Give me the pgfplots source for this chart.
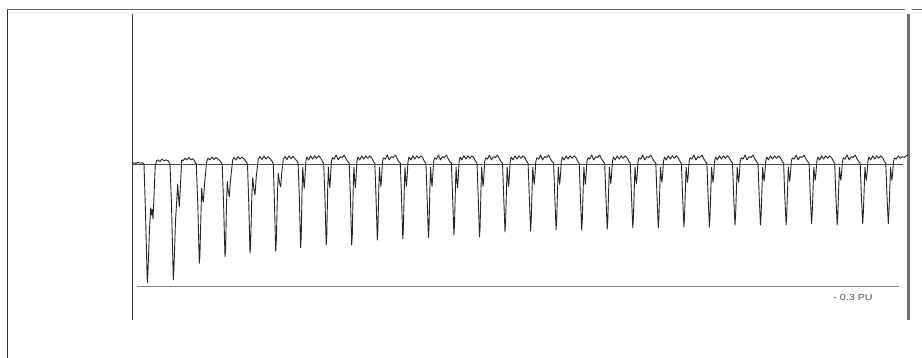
\documentclass[border=0pt]{standalone}
\usepackage{pgfplots}
\pgfplotsset{compat=1.18}
\usepackage{fontspec}
\setsansfont{Liberation Sans}
\begin{document}
\begin{tikzpicture}
\path[use as bounding box] (0,0) rectangle (922pt,358pt);
\begin{axis}[at={(0,0)}, anchor=south west, width=922pt, height=358pt, scale only axis,
  xmin=0, xmax=922, ymin=-0.4767, ymax=0.40295, hide axis, clip=false]
% frame lines
\addplot[black!80, line width=0.9pt] coordinates {(7,0.3808) (7,-0.4767)};
\addplot[black!60, line width=0.9pt] coordinates {(7,0.3808) (905,0.3808)};
\addplot[black!60, line width=0.9pt] coordinates {(912,0.3808) (922,0.3808)};
% left axis line
\addplot[black!75, line width=0.9pt] coordinates {(132.3,0.3686) (132.3,-0.3833)};
% right bar
\addplot[black!55, line width=2.7pt] coordinates {(908.7,0.3686) (908.7,-0.3833)};
% zero line
\addplot[black!70, line width=0.8pt] coordinates {(132,0) (903,0)};
% -0.3 PU line
\addplot[black!50, line width=0.8pt] coordinates {(137,-0.3) (899,-0.3)};
\node[text=black!65, font=\fontsize{8.8}{10}\selectfont\sffamily, xscale=1.22] at (axis cs:853,-0.329) {- 0.3 PU};
% waveform
\addplot[black!85, line width=0.9pt, line join=round] coordinates {
(132,0.0) (134,0.003) (136,0.001) (138,0.004) (140,0.002) (142,0.003) (144,0.0)
(145.5,-0.12) (147.3,-0.292) (147.9,-0.27) (149.5,-0.16) (150.7,-0.108) (151.5,-0.125) (152.2,-0.112) (153,-0.135) (154,-0.08) (155.2,-0.005) (156.5,0.008) (158,0.01) (160,0.006) (162,0.012) (164,0.008) (166,0.01) (168,0.008) (170,0.0)
(171.5,-0.1) (173.3,-0.285) (173.9,-0.26) (175.5,-0.14) (177.7,-0.05) (178.5,-0.08) (179.3,-0.105) (180.3,-0.06) (181.7,0.01) (183,0.008) (185,0.014) (187,0.01) (189,0.016) (191,0.01) (193,0.013) (195,0.005) (196.3,0.0)
(197.8,-0.1) (199.3,-0.244) (199.9,-0.225) (201,-0.12) (201.7,-0.06) (202.5,-0.085) (203.3,-0.093) (204.5,-0.05) (206.7,0.006) (208,0.014) (210,0.01) (212,0.017) (214,0.011) (216,0.016) (218,0.012) (220,0.008) (222.2,0.0)
(223.6,-0.1) (225,-0.228) (225.6,-0.21) (226.5,-0.1) (227.3,-0.043) (228.2,-0.065) (229.3,-0.08) (230.5,-0.04) (232.7,0.01) (234,0.016) (236,0.01) (238,0.018) (240,0.012) (242,0.017) (244,0.012) (246,0.006) (247.5,0.0)
(248.8,-0.1) (250,-0.219) (250.6,-0.2) (251.8,-0.08) (252.7,-0.034) (253.8,-0.06) (255,-0.076) (256.3,-0.03) (258.3,0.012) (260,0.018) (262,0.011) (264,0.02) (266,0.012) (268,0.018) (270,0.013) (272,0.007) (273.3,0.0)
(274.5,-0.1) (275.7,-0.214) (276.3,-0.19) (277.5,-0.07) (278.3,-0.023) (279.5,-0.045) (280.7,-0.056) (281.8,-0.02) (283.3,0.012) (285,0.018) (287,0.011) (289,0.02) (291,0.013) (293,0.019) (295,0.013) (297,0.007)
(298.1,0.002) (299.3,-0.08) (300.6,-0.206) (301.2,-0.181) (302.1,-0.06) (302.8,-0.008) (303.6,-0.042) (304.2,-0.06) (304.9,-0.036) (305.8,0.006) (306.8,0.017) (308.6,0.01) (310.6,0.02) (312.6,0.012) (314.6,0.02) (316.6,0.014) (318.6,0.02) (320.6,0.015) (322.4,0.006)
(323.7,0.002) (324.9,-0.08) (326.2,-0.199) (326.8,-0.174) (327.7,-0.06) (328.4,-0.008) (329.2,-0.041) (329.8,-0.058) (330.5,-0.035) (331.4,0.006) (332.4,0.015) (334.2,0.012) (336.2,0.022) (338.2,0.01) (340.2,0.018) (342.2,0.016) (344.2,0.022) (346.2,0.012) (348.0,0.005)
(349.2,0.002) (350.4,-0.08) (351.7,-0.199) (352.3,-0.174) (353.2,-0.06) (353.9,-0.008) (354.7,-0.041) (355.3,-0.058) (356.0,-0.035) (356.9,0.006) (357.9,0.017) (359.7,0.01) (361.7,0.02) (363.7,0.012) (365.7,0.02) (367.7,0.014) (369.7,0.02) (371.7,0.015) (373.5,0.006)
(374.8,0.002) (376.0,-0.08) (377.3,-0.187) (377.9,-0.162) (378.8,-0.06) (379.5,-0.008) (380.3,-0.039) (380.9,-0.055) (381.6,-0.033) (382.5,0.006) (383.5,0.015) (385.3,0.012) (387.3,0.022) (389.3,0.01) (391.3,0.018) (393.3,0.016) (395.3,0.022) (397.3,0.012) (399.1,0.005)
(400.3,0.002) (401.5,-0.08) (402.8,-0.184) (403.4,-0.159) (404.3,-0.06) (405.0,-0.008) (405.8,-0.039) (406.4,-0.055) (407.1,-0.033) (408.0,0.006) (409.0,0.017) (410.8,0.01) (412.8,0.02) (414.8,0.012) (416.8,0.02) (418.8,0.014) (420.8,0.02) (422.8,0.015) (424.6,0.006)
(425.9,0.002) (427.1,-0.08) (428.4,-0.181) (429.0,-0.156) (429.9,-0.06) (430.6,-0.008) (431.4,-0.039) (432.0,-0.055) (432.7,-0.033) (433.6,0.006) (434.6,0.015) (436.4,0.012) (438.4,0.022) (440.4,0.01) (442.4,0.018) (444.4,0.016) (446.4,0.022) (448.4,0.012) (450.2,0.005)
(451.4,0.002) (452.6,-0.08) (453.9,-0.174) (454.5,-0.149) (455.4,-0.06) (456.1,-0.008) (456.9,-0.041) (457.5,-0.059) (458.2,-0.035) (459.1,0.006) (460.1,0.017) (461.9,0.01) (463.9,0.02) (465.9,0.012) (467.9,0.02) (469.9,0.014) (471.9,0.02) (473.9,0.015) (475.7,0.006)
(477.0,0.002) (478.2,-0.08) (479.5,-0.179) (480.1,-0.154) (481.0,-0.06) (481.7,-0.008) (482.5,-0.039) (483.1,-0.055) (483.8,-0.033) (484.7,0.006) (485.7,0.015) (487.5,0.012) (489.5,0.022) (491.5,0.01) (493.5,0.018) (495.5,0.016) (497.5,0.022) (499.5,0.012) (501.3,0.005)
(502.5,0.002) (503.7,-0.08) (505.0,-0.167) (505.6,-0.142) (506.5,-0.06) (507.2,-0.008) (508.0,-0.039) (508.6,-0.055) (509.3,-0.033) (510.2,0.006) (511.2,0.017) (513.0,0.01) (515.0,0.02) (517.0,0.012) (519.0,0.02) (521.0,0.014) (523.0,0.02) (525.0,0.015) (526.8,0.006)
(528.1,0.002) (529.3,-0.08) (530.6,-0.165) (531.2,-0.14) (532.1,-0.06) (532.8,-0.008) (533.6,-0.035) (534.2,-0.05) (534.9,-0.03) (535.8,0.006) (536.8,0.015) (538.6,0.012) (540.6,0.022) (542.6,0.01) (544.6,0.018) (546.6,0.016) (548.6,0.022) (550.6,0.012) (552.4,0.005)
(553.6,0.002) (554.8,-0.08) (556.1,-0.162) (556.7,-0.137) (557.6,-0.06) (558.3,-0.008) (559.1,-0.035) (559.7,-0.05) (560.4,-0.03) (561.3,0.006) (562.3,0.017) (564.1,0.01) (566.1,0.02) (568.1,0.012) (570.1,0.02) (572.1,0.014) (574.1,0.02) (576.1,0.015) (577.9,0.006)
(579.2,0.002) (580.4,-0.08) (581.7,-0.162) (582.3,-0.137) (583.2,-0.06) (583.9,-0.008) (584.7,-0.035) (585.3,-0.05) (586.0,-0.03) (586.9,0.006) (587.9,0.015) (589.7,0.012) (591.7,0.022) (593.7,0.01) (595.7,0.018) (597.7,0.016) (599.7,0.022) (601.7,0.012) (603.5,0.005)
(604.7,0.002) (605.9,-0.08) (607.2,-0.16) (607.8,-0.135) (608.7,-0.06) (609.4,-0.008) (610.2,-0.034) (610.8,-0.048) (611.5,-0.029) (612.4,0.006) (613.4,0.017) (615.2,0.01) (617.2,0.02) (619.2,0.012) (621.2,0.02) (623.2,0.014) (625.2,0.02) (627.2,0.015) (629.0,0.006)
(630.3,0.002) (631.5,-0.08) (632.8,-0.157) (633.4,-0.132) (634.3,-0.06) (635.0,-0.008) (635.8,-0.034) (636.4,-0.048) (637.1,-0.029) (638.0,0.006) (639.0,0.015) (640.8,0.012) (642.8,0.022) (644.8,0.01) (646.8,0.018) (648.8,0.016) (650.8,0.022) (652.8,0.012) (654.6,0.005)
(655.8,0.002) (657.0,-0.08) (658.3,-0.157) (658.9,-0.132) (659.8,-0.06) (660.5,-0.008) (661.3,-0.032) (661.9,-0.045) (662.6,-0.027) (663.5,0.006) (664.5,0.017) (666.3,0.01) (668.3,0.02) (670.3,0.012) (672.3,0.02) (674.3,0.014) (676.3,0.02) (678.3,0.015) (680.1,0.006)
(681.4,0.002) (682.6,-0.08) (683.9,-0.155) (684.5,-0.13) (685.4,-0.06) (686.1,-0.008) (686.9,-0.032) (687.5,-0.045) (688.2,-0.027) (689.1,0.006) (690.1,0.015) (691.9,0.012) (693.9,0.022) (695.9,0.01) (697.9,0.018) (699.9,0.016) (701.9,0.022) (703.9,0.012) (705.7,0.005)
(706.9,0.002) (708.1,-0.08) (709.4,-0.155) (710.0,-0.13) (710.9,-0.06) (711.6,-0.008) (712.4,-0.032) (713.0,-0.045) (713.7,-0.027) (714.6,0.006) (715.6,0.017) (717.4,0.01) (719.4,0.02) (721.4,0.012) (723.4,0.02) (725.4,0.014) (727.4,0.02) (729.4,0.015) (731.2,0.006)
(732.5,0.002) (733.7,-0.08) (735.0,-0.15) (735.6,-0.125) (736.5,-0.06) (737.2,-0.008) (738.0,-0.032) (738.6,-0.045) (739.3,-0.027) (740.2,0.006) (741.2,0.015) (743.0,0.012) (745.0,0.022) (747.0,0.01) (749.0,0.018) (751.0,0.016) (753.0,0.022) (755.0,0.012) (756.8,0.005)
(758.0,0.002) (759.2,-0.08) (760.5,-0.15) (761.1,-0.125) (762.0,-0.06) (762.7,-0.008) (763.5,-0.03) (764.1,-0.042) (764.8,-0.025) (765.7,0.006) (766.7,0.017) (768.5,0.01) (770.5,0.02) (772.5,0.012) (774.5,0.02) (776.5,0.014) (778.5,0.02) (780.5,0.015) (782.3,0.006)
(783.6,0.002) (784.8,-0.08) (786.1,-0.15) (786.7,-0.125) (787.6,-0.06) (788.3,-0.008) (789.1,-0.03) (789.7,-0.042) (790.4,-0.025) (791.3,0.006) (792.3,0.015) (794.1,0.012) (796.1,0.022) (798.1,0.01) (800.1,0.018) (802.1,0.016) (804.1,0.022) (806.1,0.012) (807.9,0.005)
(809.1,0.002) (810.3,-0.08) (811.6,-0.147) (812.2,-0.122) (813.1,-0.06) (813.8,-0.008) (814.6,-0.028) (815.2,-0.04) (815.9,-0.024) (816.8,0.006) (817.8,0.017) (819.6,0.01) (821.6,0.02) (823.6,0.012) (825.6,0.02) (827.6,0.014) (829.6,0.02) (831.6,0.015) (833.4,0.006)
(834.7,0.002) (835.9,-0.08) (837.2,-0.15) (837.8,-0.125) (838.7,-0.06) (839.4,-0.008) (840.2,-0.028) (840.8,-0.04) (841.5,-0.024) (842.4,0.006) (843.4,0.015) (845.2,0.012) (847.2,0.022) (849.2,0.01) (851.2,0.018) (853.2,0.016) (855.2,0.022) (857.2,0.012) (859.0,0.005)
(860.2,0.002) (861.4,-0.08) (862.7,-0.147) (863.3,-0.122) (864.2,-0.06) (864.9,-0.008) (865.7,-0.028) (866.3,-0.04) (867.0,-0.024) (867.9,0.006) (868.9,0.017) (870.7,0.01) (872.7,0.02) (874.7,0.012) (876.7,0.02) (878.7,0.014) (880.7,0.02) (882.7,0.015) (884.5,0.006)
(885.8,0.002) (887.0,-0.08) (888.3,-0.147) (888.9,-0.122) (889.8,-0.06) (890.5,-0.008) (891.3,-0.028) (891.9,-0.04) (892.6,-0.024) (893.5,0.006) (894.5,0.015) (896.3,0.012) (898.3,0.02) (900.3,0.014) (902.3,0.018) (904.3,0.016) (906.3,0.02) (908.0,0.023)
};
\end{axis}
\end{tikzpicture}
\end{document}
